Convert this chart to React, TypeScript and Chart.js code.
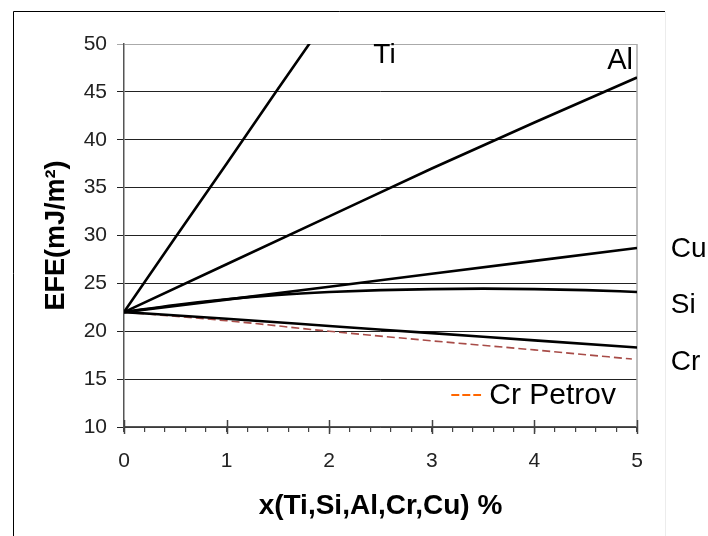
import { useEffect, useRef } from 'react';
import { Chart, registerables } from 'chart.js';

Chart.register(...registerables);

// ---- data ----
const xInt = [0, 1, 2, 3, 4, 5];
const tiX = [0, 0.5, 1, 1.5, 2];
const tiY = [22, 29.8, 37.5, 45.3, 53.0];
const alY = [22, 27.0, 32.0, 37.0, 41.8, 46.5];
const cuY = [22, 23.3, 24.65, 26.0, 27.35, 28.7];
const siX = [0, 0.5, 1, 1.5, 2, 2.5, 3, 3.5, 4, 4.5, 5];
const siY = [22, 22.75, 23.35, 23.8, 24.1, 24.3, 24.4, 24.45, 24.4, 24.3, 24.1];
const crY = [22, 21.3, 20.55, 19.8, 19.05, 18.3];
const petrovX = [0, 1, 2, 3, 4, 4.95];
const petrovY = [22, 21.1, 20.0, 19.0, 18.05, 17.1];

const xTitle = 'x(Ti,Si,Al,Cr,Cu) %';
const yTitle = 'EFE(mJ/m²)';
const seriesNames = ['Ti', 'Al', 'Cu', 'Si', 'Cr'];
const legendName = 'Cr Petrov';

// label anchors in data units (x, baseline y)
const labelX = [2.43, 4.71, 5.33, 5.33, 5.33];
const labelY = [48.0, 47.36, 27.79, 21.87, 15.95];
const legendLabelAt = [3.56, 12.45];
const legendDashAt = [3.19, 3.48, 13.34];

const FONT = '"Liberation Sans", Arial, sans-serif';

const pts = (xs: number[], ys: number[]) => ys.map((y, i) => ({ x: xs[i], y }));

const decor = {
  id: 'decor',
  beforeDraw(chart: any) {
    const { ctx } = chart;
    ctx.save();
    ctx.fillStyle = '#fff';
    ctx.fillRect(0, 0, chart.width, chart.height);
    ctx.lineWidth = 1;
    ctx.strokeStyle = '#000';
    ctx.beginPath();
    ctx.moveTo(13.5, 536);
    ctx.lineTo(13.5, 11.5);
    ctx.lineTo(665, 11.5);
    ctx.stroke();
    ctx.strokeStyle = '#ececec';
    ctx.beginPath();
    ctx.moveTo(665.5, 12);
    ctx.lineTo(665.5, 536);
    ctx.stroke();
    ctx.restore();
  },
  beforeDatasetsDraw(chart: any) {
    const { ctx, chartArea: a, scales } = chart;
    const xs = scales.x;
    ctx.save();
    ctx.strokeStyle = '#aaa';
    ctx.lineWidth = 1.5;
    ctx.beginPath();
    ctx.moveTo(a.right, a.top);
    ctx.lineTo(a.right, a.bottom);
    ctx.stroke();
    ctx.strokeStyle = '#444';
    ctx.lineWidth = 1.5;
    xInt.forEach((v) => {
      const px = Math.round(xs.getPixelForValue(v)) + 0.5;
      ctx.beginPath();
      ctx.moveTo(px, a.bottom - 7);
      ctx.lineTo(px, a.bottom + 7);
      ctx.stroke();
    });
    ctx.restore();
  },
  afterDatasetsDraw(chart: any) {
    const { ctx, scales } = chart;
    const xs = scales.x;
    const ys = scales.y;
    ctx.save();
    ctx.fillStyle = '#000';
    ctx.textAlign = 'left';
    ctx.textBaseline = 'alphabetic';
    seriesNames.forEach((n, i) => {
      ctx.font = `${i === 1 ? 29 : 28}px ${FONT}`;
      ctx.fillText(n, xs.getPixelForValue(labelX[i]), ys.getPixelForValue(labelY[i]));
    });
    ctx.font = `30px ${FONT}`;
    ctx.fillText(legendName, xs.getPixelForValue(legendLabelAt[0]), ys.getPixelForValue(legendLabelAt[1]));
    ctx.strokeStyle = '#ff6600';
    ctx.lineWidth = 2;
    ctx.setLineDash([8, 3]);
    const ly = ys.getPixelForValue(legendDashAt[2]);
    ctx.beginPath();
    ctx.moveTo(xs.getPixelForValue(legendDashAt[0]), ly);
    ctx.lineTo(xs.getPixelForValue(legendDashAt[1]), ly);
    ctx.stroke();
    ctx.restore();
  },
};

export default function App() {
  const ref = useRef<HTMLCanvasElement | null>(null);
  useEffect(() => {
    if (!ref.current) return;
    const solid = (data: any[], cubic = false) => ({
      data,
      borderColor: '#000',
      borderWidth: 2.6,
      pointRadius: 0,
      fill: false,
      cubicInterpolationMode: cubic ? 'monotone' : 'default',
      tension: 0,
    });
    const chart = new Chart(ref.current, {
      type: 'line',
      data: {
        datasets: [
          { label: 'Ti', ...solid(pts(tiX, tiY)) },
          { label: 'Al', ...solid(pts(xInt, alY), true) },
          { label: 'Cu', ...solid(pts(xInt, cuY)) },
          { label: 'Si', ...solid(pts(siX, siY), true) },
          { label: 'Cr', ...solid(pts(xInt, crY), true) },
          {
            label: 'Cr Petrov',
            data: pts(petrovX, petrovY),
            borderColor: '#a84c48',
            borderWidth: 1.6,
            borderDash: [8, 4],
            pointRadius: 0,
            fill: false,
            cubicInterpolationMode: 'monotone',
          },
        ] as any,
      },
      options: {
        responsive: false,
        animation: false,
        devicePixelRatio: 1,
        layout: { padding: { left: 0, right: 71, top: 44, bottom: 0 } },
        plugins: { legend: { display: false }, tooltip: { enabled: false } },
        scales: {
          x: {
            type: 'linear',
            min: 0,
            max: 5,
            ticks: {
              stepSize: 0.2,
              autoSkip: false,
              maxRotation: 0,
              padding: 17,
              color: '#222',
              font: { family: FONT, size: 21 },
              callback: (v: any) => {
                const n = Number(v);
                return Math.abs(n - Math.round(n)) < 1e-6 ? String(Math.round(n)) : '';
              },
            },
            grid: { drawOnChartArea: false, tickLength: 5, color: '#444', lineWidth: 1.2 },
            border: { display: true, color: '#555', width: 1.6 },
            title: {
              display: true,
              text: xTitle,
              color: '#000',
              font: { family: FONT, size: 28, weight: 'bold' },
              padding: { top: 0, bottom: 13 },
            },
            afterFit: (s: any) => { s.height = 109; },
          },
          y: {
            type: 'linear',
            min: 10,
            max: 50,
            ticks: {
              stepSize: 5,
              padding: 10,
              color: '#222',
              font: { family: FONT, size: 21 },
            },
            grid: {
              tickLength: 7,
              lineWidth: 1,
              color: (c: any) => (c.tick && c.tick.value === 50 ? '#aaa' : '#222'),
            },
            border: { display: true, color: '#555', width: 1.5 },
            title: {
              display: true,
              text: yTitle,
              color: '#000',
              font: { family: FONT, size: 27, weight: 'bold' },
              padding: { top: 40, bottom: 0 },
            },
            afterFit: (s: any) => { s.width = 124; },
          },
        },
      } as any,
      plugins: [decor],
    });
    return () => chart.destroy();
  }, []);
  return (
    <div style={{ position: 'absolute', left: 0, top: 0, width: 708, height: 536 }}>
      <canvas ref={ref} width={708} height={536} />
    </div>
  );
}
